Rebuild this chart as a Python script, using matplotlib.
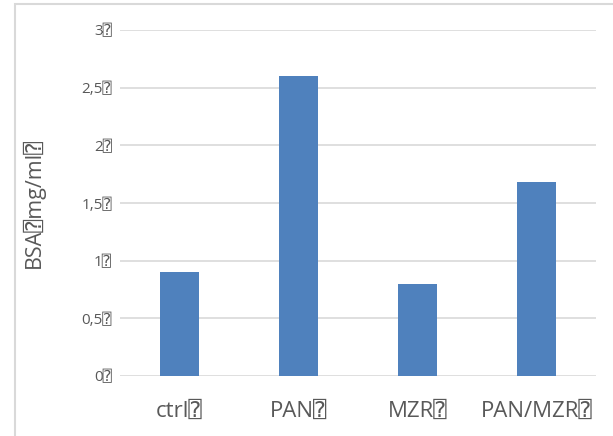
import matplotlib
matplotlib.use("Agg")
import matplotlib.pyplot as plt
from matplotlib.patches import Rectangle
from matplotlib.ticker import FixedLocator

# data
box = "\u2370"
categories = ["ctrl" + box, "PAN" + box, "MZR" + box, "PAN/MZR" + box]
values = [0.9, 2.6, 0.8, 1.68]
yticks = [0, 0.5, 1, 1.5, 2, 2.5, 3]
ytick_labels = ["0" + box, "0,5" + box, "1" + box, "1,5" + box, "2" + box, "2,5" + box, "3" + box]
ylabel = "BSA" + box + "mg/ml" + box

plt.rcParams['font.family'] = ['Open Sans', 'DejaVu Sans', 'DejaVu Sans Mono']

fig = plt.figure(figsize=(6.13, 4.36), dpi=100)
ax = fig.add_axes([120/613, 1 - 376/436, 476/613, (376 - 30)/436])

x = range(len(categories))
ax.bar(x, values, width=0.32, color='#4F81BD', zorder=3)

ax.set_xlim(-0.5, 3.5)
ax.set_ylim(0, 3)
ax.yaxis.set_major_locator(FixedLocator(yticks))
ax.set_yticklabels(ytick_labels, fontsize=11, color='#595959')
ax.set_xticks(list(x))
ax.set_xticklabels(categories, fontsize=16, color='#595959')
ax.tick_params(axis='both', length=0)
ax.tick_params(axis='y', pad=6)
ax.tick_params(axis='x', pad=18)
ax.grid(axis='y', color='#D9D9D9', linewidth=1.2, zorder=0)
for s in ax.spines.values():
    s.set_visible(False)
ax.set_ylabel(ylabel, fontsize=15.5, color='#595959', labelpad=26)

# outer chart frame
fig.patches.append(Rectangle((15/613, -0.1), 1.2, 1.1 - 4/436, transform=fig.transFigure,
                             fill=False, edgecolor='#D9D9D9', linewidth=1.5))

fig.savefig("out.png", dpi=100)
